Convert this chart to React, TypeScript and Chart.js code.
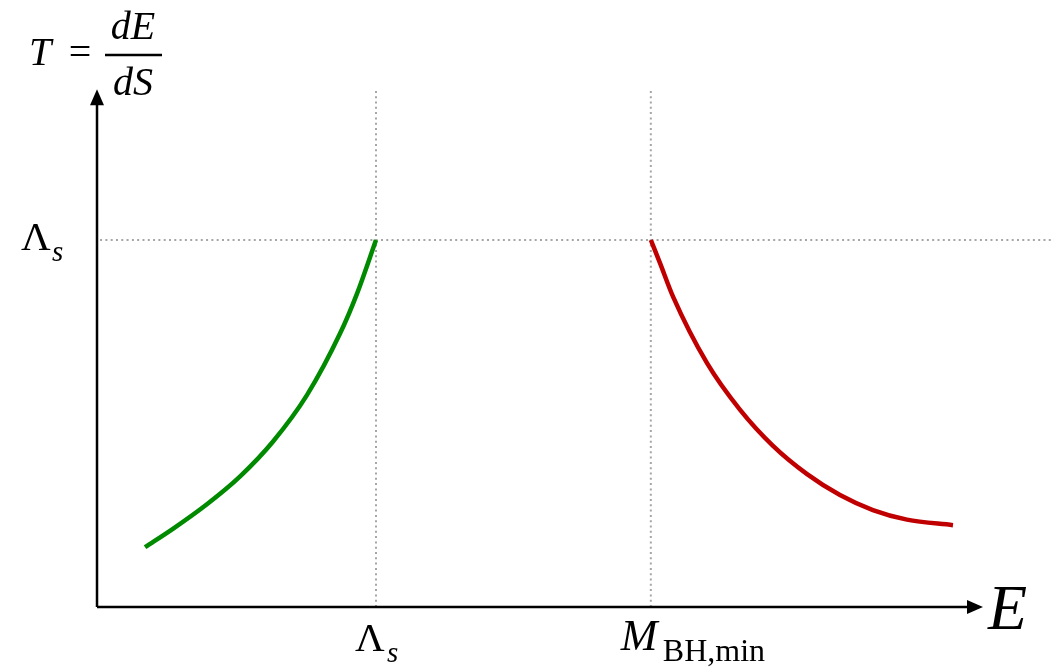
import React, { useEffect, useRef } from "react";
import { Chart, registerables } from "chart.js";

Chart.register(...registerables);

// Axis extents (data units: E in units of Λs, T in units of Λs)
const E_MIN = -0.3477;
const E_MAX = 3.4265;
const T_MIN = -0.169;
const T_MAX = 1.654;

// Marked values
const LAMBDA_S = 1.0;
const M_BH_MIN = 1.985;
const T_TOP = 1.414; // top of dotted guide lines
const E_ARROW = 3.1756; // tip of E-axis arrow
const T_ARROW = 1.411; // tip of T-axis arrow

// Green branch (string regime), T rises to Λs at E = Λs
const greenE = [0.172, 0.272, 0.394, 0.513, 0.631, 0.753, 0.871, 0.932, 1.0];
const greenT = [0.163, 0.213, 0.28, 0.356, 0.451, 0.578, 0.745, 0.854, 1.0];

// Red branch (black hole regime), T falls from Λs at E = M_BH,min
const redE = [1.985, 2.018, 2.065, 2.186, 2.305, 2.423, 2.545, 2.663, 2.781, 2.903, 3.068];
const redT = [1.0, 0.937, 0.845, 0.665, 0.537, 0.439, 0.362, 0.305, 0.264, 0.238, 0.223];

const zip = (xs: number[], ys: number[]) => xs.map((x, i) => ({ x, y: ys[i] }));

const SERIF = '"Liberation Serif", "DejaVu Serif", serif';

const overlayPlugin = {
  id: "overlay",
  afterDatasetsDraw(chart: any) {
    const ctx = chart.ctx as CanvasRenderingContext2D;
    const xs = chart.scales.x;
    const ys = chart.scales.y;
    const x0 = xs.getPixelForValue(0);
    const y0 = ys.getPixelForValue(0);
    const xTip = xs.getPixelForValue(E_ARROW);
    const yTip = ys.getPixelForValue(T_ARROW);
    ctx.save();
    ctx.strokeStyle = "#000";
    ctx.fillStyle = "#000";
    ctx.lineWidth = 2.5;
    // axes
    ctx.beginPath();
    ctx.moveTo(x0, y0);
    ctx.lineTo(xTip - 12, y0);
    ctx.moveTo(x0, y0);
    ctx.lineTo(x0, yTip + 12);
    ctx.stroke();
    // arrowheads
    ctx.beginPath();
    ctx.moveTo(xTip, y0);
    ctx.lineTo(xTip - 16, y0 - 7);
    ctx.lineTo(xTip - 16, y0 + 7);
    ctx.closePath();
    ctx.fill();
    ctx.beginPath();
    ctx.moveTo(x0, yTip);
    ctx.lineTo(x0 - 7, yTip + 16);
    ctx.lineTo(x0 + 7, yTip + 16);
    ctx.closePath();
    ctx.fill();

    // labels
    ctx.textBaseline = "alphabetic";
    // E axis label
    ctx.textAlign = "left";
    ctx.font = `italic 64px ${SERIF}`;
    ctx.fillText("E", xTip + 5, y0 + 22);

    // T = dE/dS
    ctx.font = `italic 40px ${SERIF}`;
    ctx.fillText("T", x0 - 68, 65);
    ctx.font = `40px ${SERIF}`;
    ctx.textAlign = "center";
    ctx.fillText("=", x0 - 17, 65);
    ctx.font = `italic 40px ${SERIF}`;
    ctx.fillText("dE", x0 + 36, 39);
    ctx.fillText("dS", x0 + 36, 95);
    ctx.lineWidth = 2.5;
    ctx.beginPath();
    ctx.moveTo(x0 + 8, 55);
    ctx.lineTo(x0 + 65, 55);
    ctx.stroke();

    // Λs on T axis
    const yL = ys.getPixelForValue(LAMBDA_S);
    ctx.textAlign = "left";
    ctx.font = `41px ${SERIF}`;
    ctx.fillText("Λ", 21, yL + 10);
    ctx.font = `italic 29px ${SERIF}`;
    ctx.fillText("s", 52, yL + 21);

    // Λs on E axis
    const xL = xs.getPixelForValue(LAMBDA_S);
    ctx.font = `41px ${SERIF}`;
    ctx.fillText("Λ", xL - 21, y0 + 44);
    ctx.font = `italic 29px ${SERIF}`;
    ctx.fillText("s", xL + 11, y0 + 55);

    // M_BH,min
    const xM = xs.getPixelForValue(M_BH_MIN);
    ctx.font = `italic 44px ${SERIF}`;
    ctx.fillText("M", xM - 30, y0 + 43);
    ctx.font = `32px ${SERIF}`;
    ctx.fillText("BH,min", xM + 12, y0 + 54);
    ctx.restore();
  },
};

export default function App() {
  const ref = useRef<HTMLCanvasElement | null>(null);
  useEffect(() => {
    if (!ref.current) return;
    const dotted = {
      borderColor: "#a6a6a6",
      borderWidth: 2,
      borderDash: [2, 3.3],
      pointRadius: 0,
      tension: 0,
      fill: false,
    };
    const curve = {
      borderWidth: 4.5,
      pointRadius: 0,
      cubicInterpolationMode: "monotone",
      borderCapStyle: "butt",
      fill: false,
    };
    const chart = new Chart(ref.current, {
      type: "line",
      data: {
        datasets: [
          { label: "green", data: zip(greenE, greenT), borderColor: "#008a00", ...curve },
          { label: "red", data: zip(redE, redT), borderColor: "#c00000", ...curve },
          { label: "hLambda", data: [{ x: 0.011, y: LAMBDA_S }, { x: E_MAX, y: LAMBDA_S }], ...dotted },
          { label: "vLambda", data: [{ x: LAMBDA_S, y: 0 }, { x: LAMBDA_S, y: T_TOP }], ...dotted },
          { label: "vM", data: [{ x: M_BH_MIN, y: 0 }, { x: M_BH_MIN, y: T_TOP }], ...dotted },
        ] as any,
      },
      options: {
        animation: false,
        responsive: false,
        maintainAspectRatio: false,
        layout: { padding: 0 },
        plugins: { legend: { display: false }, tooltip: { enabled: false } },
        events: [],
        scales: {
          x: { type: "linear", min: E_MIN, max: E_MAX, display: false },
          y: { type: "linear", min: T_MIN, max: T_MAX, display: false },
        },
      },
      plugins: [overlayPlugin],
    });
    return () => chart.destroy();
  }, []);
  return (
    <div style={{ position: "absolute", left: 0, top: 0, width: 1053, height: 669, background: "#fff" }}>
      <canvas ref={ref} width={1053} height={669} style={{ display: "block" }} />
    </div>
  );
}
